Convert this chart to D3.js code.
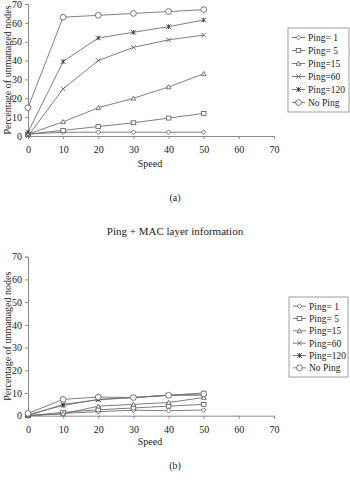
<!DOCTYPE html>
<html>
<head>
<meta charset="utf-8">
<script src="https://cdn.jsdelivr.net/npm/d3@7"></script>
<style>
  html, body { margin: 0; padding: 0; background: #fff; }
  svg { display: block; }
  text { font-family: "Liberation Serif", "Times New Roman", serif; fill: #222; }
</style>
</head>
<body>
<svg id="fig" width="350" height="482"></svg>
<script>
// Speeds on the x axis
const speeds = [0, 10, 20, 30, 40, 50];
const xTicks = [0, 10, 20, 30, 40, 50, 60, 70];
const yTicks = [0, 10, 20, 30, 40, 50, 60, 70];

const seriesNames = ["Ping= 1", "Ping= 5", "Ping=15", "Ping=60", "Ping=120", "No Ping"];
const seriesMarkers = ["diamond", "square", "triangle", "cross", "star", "circle"];

// (a) Ping only
const pingOnly = {
  "Ping= 1":  [1, 2, 2, 2, 2, 2],
  "Ping= 5":  [1, 3, 5, 7, 9.5, 12],
  "Ping=15":  [1, 7.5, 15, 20, 26, 33],
  "Ping=60":  [0, 25, 40, 47, 51, 53.5],
  "Ping=120": [2, 39.5, 52, 55, 58, 61.5],
  "No Ping":  [15, 63, 64, 65, 66, 67]
};

// (b) Ping + MAC layer information
const pingMac = {
  "Ping= 1":  [0, 1, 1.8, 2.4, 2.2, 2.5],
  "Ping= 5":  [0, 1.5, 2.6, 3.4, 4.2, 5],
  "Ping=15":  [0, 0.8, 4.2, 5, 5.8, 8],
  "Ping=60":  [0, 5, 7, 8, 9, 9],
  "Ping=120": [0.5, 4.5, 7.2, 8, 9, 10],
  "No Ping":  [1, 7.2, 8.2, 8, 9, 9.6]
};

const svg = d3.select("#fig");
const lineColor = "#707070";
const axisColor = "#8a8a8a";

function drawMarker(g, type, cx, cy) {
  const s = 2.3;
  const m = g.append("g").attr("transform", `translate(${cx},${cy})`)
    .attr("fill", "#fff").attr("stroke", "#555").attr("stroke-width", 0.8);
  if (type === "diamond") {
    m.append("path").attr("d", `M0,${-s}L${s},0L0,${s}L${-s},0Z`);
  } else if (type === "square") {
    m.append("rect").attr("x", -s).attr("y", -s * 0.85).attr("width", 2 * s).attr("height", 1.7 * s);
  } else if (type === "triangle") {
    m.append("path").attr("d", `M0,${-s}L${s},${s * 0.8}L${-s},${s * 0.8}Z`);
  } else if (type === "cross") {
    m.append("path").attr("d", `M${-s},${-s}L${s},${s}M${-s},${s}L${s},${-s}`).attr("fill", "none");
  } else if (type === "star") {
    m.append("path").attr("d", `M${-s},${-s}L${s},${s}M${-s},${s}L${s},${-s}M0,${-s}L0,${s}`)
      .attr("fill", "none").attr("stroke", "#222");
  } else if (type === "circle") {
    m.append("circle").attr("r", s + 0.6);
  }
}

function drawChart(cfg) {
  const x = d3.scaleLinear().domain([0, 70]).range([28, 274]);
  const y = d3.scaleLinear().domain([0, 70]).range([cfg.y0, cfg.y70]);
  const g = svg.append("g");

  // y axis
  const ya = g.append("g").attr("transform", `translate(${x(0)},0)`)
    .call(d3.axisLeft(y).tickValues(yTicks).tickSize(3).tickPadding(3).tickFormat(d3.format("d")));
  ya.select(".domain").attr("stroke", axisColor);
  ya.selectAll(".tick line").attr("stroke", axisColor);
  ya.selectAll("text").attr("font-family", "Liberation Serif").attr("font-size", 10).attr("fill", "#222");

  // x axis
  const xa = g.append("g").attr("transform", `translate(0,${y(0)})`)
    .call(d3.axisBottom(x).tickValues(xTicks).tickSize(3).tickPadding(cfg.xPad).tickSizeOuter(0).tickFormat(d3.format("d")));
  xa.select(".domain").attr("stroke", axisColor);
  xa.selectAll(".tick line").attr("stroke", axisColor);
  xa.selectAll("text").attr("font-family", "Liberation Serif").attr("font-size", 10).attr("fill", "#222");

  // axis titles
  g.append("text").attr("x", 150).attr("y", cfg.speedY).attr("text-anchor", "middle")
    .attr("font-size", 10).text("Speed");
  g.append("text")
    .attr("transform", `translate(11,${(y(0) + y(70)) / 2}) rotate(-90)`)
    .attr("text-anchor", "middle").attr("font-size", 10)
    .text("Percentage of unmanaged nodes");

  // series
  const line = d3.line().x((d, i) => x(speeds[i])).y(d => y(d));
  seriesNames.forEach((name, k) => {
    const vals = cfg.data[name];
    g.append("path").attr("d", line(vals)).attr("fill", "none")
      .attr("stroke", lineColor).attr("stroke-width", 0.9);
  });
  seriesNames.forEach((name, k) => {
    cfg.data[name].forEach((v, i) => drawMarker(g, seriesMarkers[k], x(speeds[i]), y(v)));
  });

  // legend
  const lg = g.append("g");
  lg.append("rect").attr("x", cfg.legX).attr("y", cfg.legY)
    .attr("width", cfg.legW).attr("height", cfg.legH)
    .attr("fill", "#fff").attr("stroke", "#888").attr("stroke-width", 0.8);
  const rowH = (cfg.legH - 6) / seriesNames.length;
  seriesNames.forEach((name, k) => {
    const cy = cfg.legY + 3 + rowH * (k + 0.5);
    lg.append("line").attr("x1", cfg.legX + 4).attr("x2", cfg.legX + 17)
      .attr("y1", cy).attr("y2", cy).attr("stroke", lineColor).attr("stroke-width", 0.9);
    drawMarker(lg, seriesMarkers[k], cfg.legX + 10.5, cy);
    lg.append("text").attr("x", cfg.legX + 20).attr("y", cy + 3.5)
      .attr("font-size", 9.5).text(name);
  });

  // caption
  g.append("text").attr("x", 175).attr("y", cfg.capY).attr("text-anchor", "middle")
    .attr("font-size", 10).text(cfg.caption);
}

drawChart({
  data: pingOnly, y0: 136, y70: 4, xPad: 7, speedY: 167,
  legX: 288, legY: 28, legW: 61, legH: 84, capY: 201, caption: "(a)"
});

svg.append("text").attr("x", 175).attr("y", 235).attr("text-anchor", "middle")
  .attr("font-size", 11).text("Ping + MAC layer information");

drawChart({
  data: pingMac, y0: 415.7, y70: 256.7, xPad: 7, speedY: 445,
  legX: 289, legY: 297, legW: 59, legH: 80, capY: 469, caption: "(b)"
});
</script>
</body>
</html>
